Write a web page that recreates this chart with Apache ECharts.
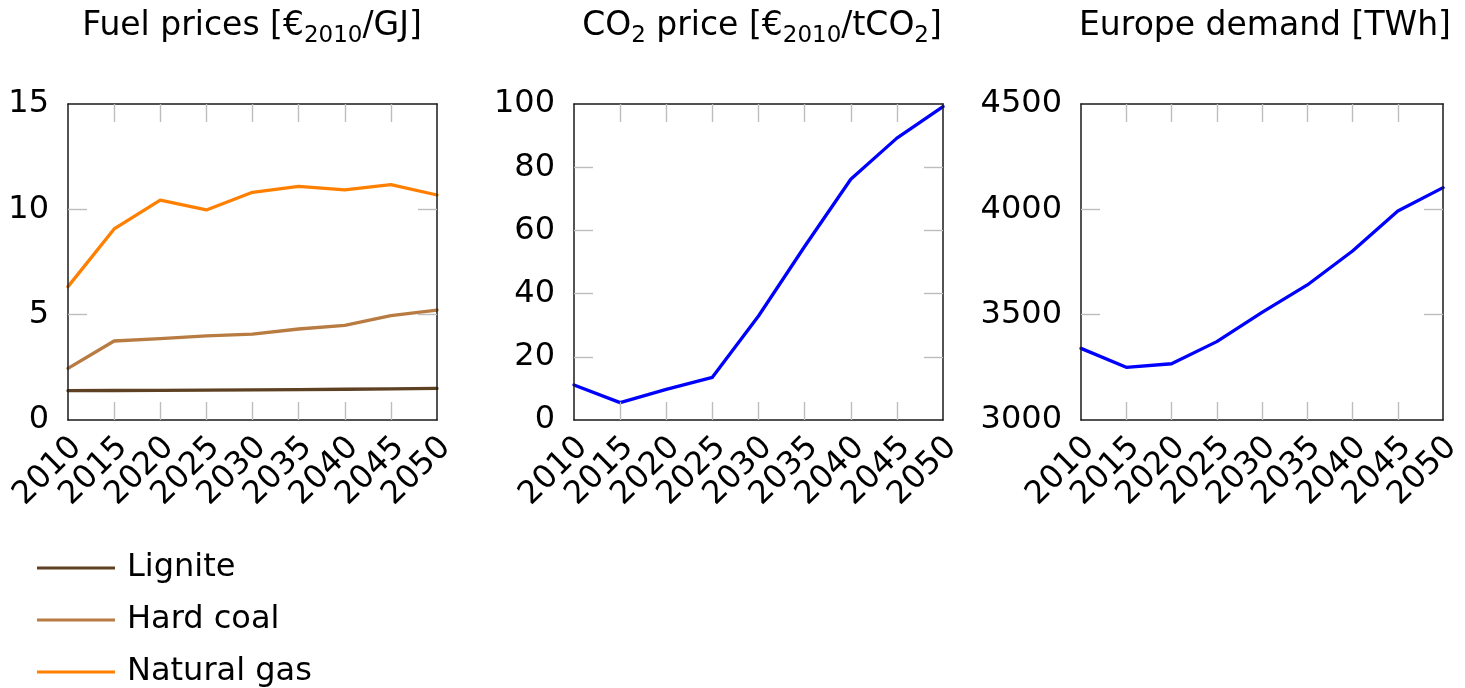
<!DOCTYPE html>
<html>
<head>
<meta charset="utf-8">
<script src="https://cdn.jsdelivr.net/npm/echarts@6/dist/echarts.min.js"></script>
<style>
html,body{margin:0;padding:0;background:#fff;}
#c{width:1465px;height:688px;}
</style>
</head>
<body>
<div id="c"></div>
<script>
// ---- data ----
const years = ['2010','2015','2020','2025','2030','2035','2040','2045','2050'];
const lignite    = [1.39, 1.40, 1.41, 1.42, 1.43, 1.44, 1.46, 1.48, 1.50];
const hardCoal   = [2.45, 3.75, 3.86, 3.99, 4.08, 4.32, 4.49, 4.95, 5.22];
const naturalGas = [6.33, 9.07, 10.44, 9.97, 10.81, 11.09, 10.92, 11.17, 10.68];
const co2Price   = [11.1, 5.5, 9.7, 13.5, 32.9, 54.9, 76.2, 89.2, 99.2];
const demand     = [3340, 3250, 3267, 3372, 3511, 3641, 3802, 3992, 4103];
const fuelTicks   = [0, 5, 10, 15];
const co2Ticks    = [0, 20, 40, 60, 80, 100];
const demandTicks = [3000, 3500, 4000, 4500];
const seriesNames = ['Lignite', 'Hard coal', 'Natural gas'];

// ---- styling ----
const FONT = 'DejaVu Sans';
const FRAME = '#1a1a1a';
const TICK = '#bdbdbd';
const C_LIG = '#5e4023';
const C_HC = '#b87b42';
const C_NG = '#ff8000';
const C_BLUE = '#0000ff';

const grids = [
  {left: 68, top: 104, width: 369, height: 316},
  {left: 574, top: 104, width: 369, height: 316},
  {left: 1081, top: 104, width: 368, height: 316}
];
const yDefs = [
  {ticks: fuelTicks},
  {ticks: co2Ticks},
  {ticks: demandTicks}
];

const xAxes = [], yAxes = [];
grids.forEach((g, i) => {
  const tickInner = (idx) => idx !== 0 && idx !== years.length - 1;
  // bottom
  xAxes.push({
    type: 'category', gridIndex: i, data: years, boundaryGap: false, position: 'bottom',
    axisLine: {show: true, onZero: false, lineStyle: {color: FRAME, width: 1.5}},
    axisTick: {show: true, inside: true, length: 18, interval: tickInner, lineStyle: {color: TICK, width: 1.4}},
    axisLabel: {show: true, rotate: 45, margin: 31, padding: [0, -12, 0, 0], fontFamily: FONT, fontSize: 32, color: '#000', interval: 0},
    splitLine: {show: false}, z: 3
  });
  // top mirror
  xAxes.push({
    type: 'category', gridIndex: i, data: years, boundaryGap: false, position: 'top',
    axisLine: {show: true, onZero: false, lineStyle: {color: FRAME, width: 1.5}},
    axisTick: {show: true, inside: true, length: 18, interval: tickInner, lineStyle: {color: TICK, width: 1.4}},
    axisLabel: {show: false}, splitLine: {show: false}, z: 3
  });
  const t = yDefs[i].ticks;
  const mn = t[0], mx = t[t.length - 1], iv = t[1] - t[0];
  const innerTicks = t.slice(1, -1);
  yAxes.push({
    type: 'value', gridIndex: i, min: mn, max: mx, interval: iv, position: 'left',
    axisLine: {show: true, onZero: false, lineStyle: {color: FRAME, width: 1.5}},
    axisTick: {show: true, inside: true, length: 19, customValues: innerTicks, lineStyle: {color: TICK, width: 1.4}},
    axisLabel: {show: true, margin: 19, fontFamily: FONT, fontSize: 32, color: '#000', customValues: t,
                formatter: (v) => String(v)},
    splitLine: {show: false}, z: 3
  });
  yAxes.push({
    type: 'value', gridIndex: i, min: mn, max: mx, interval: iv, position: 'right',
    axisLine: {show: true, onZero: false, lineStyle: {color: FRAME, width: 1.5}},
    axisTick: {show: true, inside: true, length: 19, customValues: innerTicks, lineStyle: {color: TICK, width: 1.4}},
    axisLabel: {show: false}, splitLine: {show: false}, z: 3
  });
});

function line(name, data, color, gi) {
  return {
    name: name, type: 'line', data: data, xAxisIndex: gi * 2, yAxisIndex: gi * 2,
    symbol: 'none', silent: true, animation: false, z: 2,
    lineStyle: {color: color, width: 3.3, cap: 'round', join: 'round'},
    itemStyle: {color: color}
  };
}

const richT = {
  m: {fontSize: 33, fontFamily: FONT, color: '#000'},
  s: {fontSize: 23, fontFamily: FONT, color: '#000', padding: [20, 0, 0, 0]}
};
function titleText(cx, text) {
  return {
    type: 'text', x: cx, y: 26,
    style: {text: text, rich: richT, align: 'center', verticalAlign: 'middle', fill: '#000', font: '33px "DejaVu Sans"'}
  };
}

const legendTops = [552, 604, 656];
const legends = seriesNames.map((n, k) => ({
  orient: 'vertical', left: 37, top: legendTops[k], padding: 0,
  icon: 'rect', itemWidth: 78, itemHeight: 3,
  data: [n],
  textStyle: {fontFamily: FONT, fontSize: 32, lineHeight: 30, color: '#000', padding: [0, 0, 0, 7]},
  selectedMode: false
}));

const option = {
  animation: false,
  backgroundColor: '#fff',
  grid: grids,
  xAxis: xAxes,
  yAxis: yAxes,
  legend: legends,
  graphic: [
    titleText(252, '{m|Fuel prices [€}{s|2010}{m|/GJ]}'),
    titleText(762, '{m|CO}{s|2}{m| price [€}{s|2010}{m|/tCO}{s|2}{m|]}'),
    titleText(1265, '{m|Europe demand [TWh]}')
  ],
  series: [
    line(seriesNames[0], lignite, C_LIG, 0),
    line(seriesNames[1], hardCoal, C_HC, 0),
    line(seriesNames[2], naturalGas, C_NG, 0),
    line('CO2 price', co2Price, C_BLUE, 1),
    line('Europe demand', demand, C_BLUE, 2)
  ]
};

const chart = echarts.init(document.getElementById('c'), null, {renderer: 'canvas'});
chart.setOption(option);
</script>
</body>
</html>
